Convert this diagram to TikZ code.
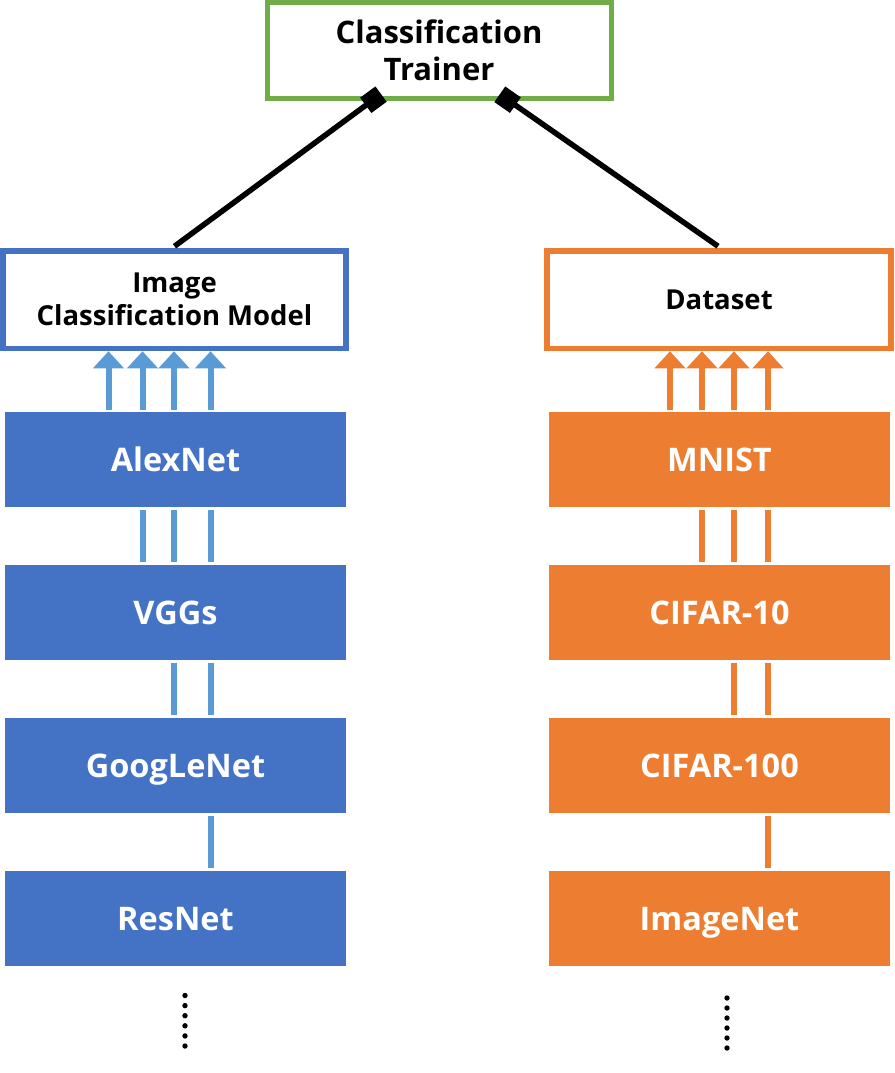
\documentclass[tikz,border=0pt]{standalone}
\usepackage{fontspec}
\setmainfont{Open Sans}
\usetikzlibrary{arrows.meta}
\definecolor{cgreen}{HTML}{70AD47}
\definecolor{cblue}{HTML}{4472C4}
\definecolor{clblue}{HTML}{5B9BD5}
\definecolor{corange}{HTML}{ED7D31}
\tikzset{
  outbox/.style={draw, fill=white, inner sep=0pt, align=center, text=black},
  bigtext/.style={font=\bfseries\fontsize{31}{38}\selectfont},
  midtext/.style={font=\bfseries\fontsize{27.5}{33}\selectfont},
  fillbox/.style={inner sep=0pt, minimum width=341pt, minimum height=95pt, text=white, text height=30pt, text depth=6pt, font=\bfseries\fontsize{32.5}{36}\selectfont},
  bluebox/.style={fillbox, fill=cblue},
  orangebox/.style={fillbox, fill=corange},
  uparrow/.style={line width=6pt, -{Triangle[length=17pt,width=30pt]}},
  link/.style={line width=6pt, shorten <=3pt, shorten >=3pt},
  conn/.style={line width=5.5pt, black, -{Square[length=19pt,width=19pt]}, shorten >=-10pt},
}
\begin{document}
\begin{tikzpicture}[x=1pt,y=-1pt]
\useasboundingbox (0,0) rectangle (894,1073);
% top box
\node[outbox, bigtext, draw=cgreen, line width=5pt, minimum width=344pt, minimum height=95pt] (trainer) at (439,50.5) {Classification\\[-0.5pt]Trainer};
\node[outbox, midtext, draw=cblue, line width=5.5pt, minimum width=343pt, minimum height=97.5pt] (model) at (174.5,299.75) {Image\\Classification Model};
\node[outbox, midtext, draw=corange, line width=5.5pt, minimum width=344pt, minimum height=97.5pt] (data) at (719,299.75) {Dataset};
% filled boxes
\node[bluebox] (alex) at (175.5,459.5) {AlexNet};
\node[bluebox] (vgg) at (175.5,612.5) {VGGs};
\node[bluebox] (goog) at (175.5,765.5) {GoogLeNet};
\node[bluebox] (res) at (175.5,918.5) {ResNet};
\node[orangebox] (mnist) at (719.5,459.5) {MNIST};
\node[orangebox] (c10) at (719.5,612.5) {CIFAR-10};
\node[orangebox] (c100) at (719.5,765.5) {CIFAR-100};
\node[orangebox] (inet) at (719.5,918.5) {ImageNet};
% column coordinates
\coordinate (b1) at (108.5,0);
\coordinate (b2) at (142.5,0);
\coordinate (b3) at (174,0);
\coordinate (b4) at (210.5,0);
\coordinate (o1) at (670,0);
\coordinate (o2) at (702,0);
\coordinate (o3) at (734,0);
\coordinate (o4) at (768,0);
% arrows up
\foreach \c in {b1,b2,b3,b4}
  \draw[uparrow, clblue, shorten <=2pt] (alex.north -| \c) -- (model.south -| \c);
\foreach \c in {o1,o2,o3,o4}
  \draw[uparrow, corange, shorten <=2pt] (mnist.north -| \c) -- (data.south -| \c);
% links
\foreach \c in {b2,b3,b4}
  \draw[link, clblue] (alex.south -| \c) -- (vgg.north -| \c);
\foreach \c in {b3,b4}
  \draw[link, clblue] (vgg.south -| \c) -- (goog.north -| \c);
\draw[link, clblue] (goog.south -| b4) -- (res.north -| b4);
\foreach \c in {o2,o3,o4}
  \draw[link, corange] (mnist.south -| \c) -- (c10.north -| \c);
\foreach \c in {o3,o4}
  \draw[link, corange] (c10.south -| \c) -- (c100.north -| \c);
\draw[link, corange] (c100.south -| o4) -- (inet.north -| o4);
% connectors to trainer
\coordinate (t1) at (373,100);
\coordinate (t2) at (508,100);
\draw[conn] ([yshift=2pt]model.north) -- (t1);
\draw[conn] ([xshift=-1pt,yshift=2pt]data.north) -- (t2);
% dots
\foreach \y in {995.5,1005.6,1015.7,1025.8,1035.9,1046}
  \fill (185,\y) circle (2.7pt);
\foreach \y in {998,1008,1018,1028,1038,1048}
  \fill (727,\y) circle (2.7pt);
\end{tikzpicture}
\end{document}
